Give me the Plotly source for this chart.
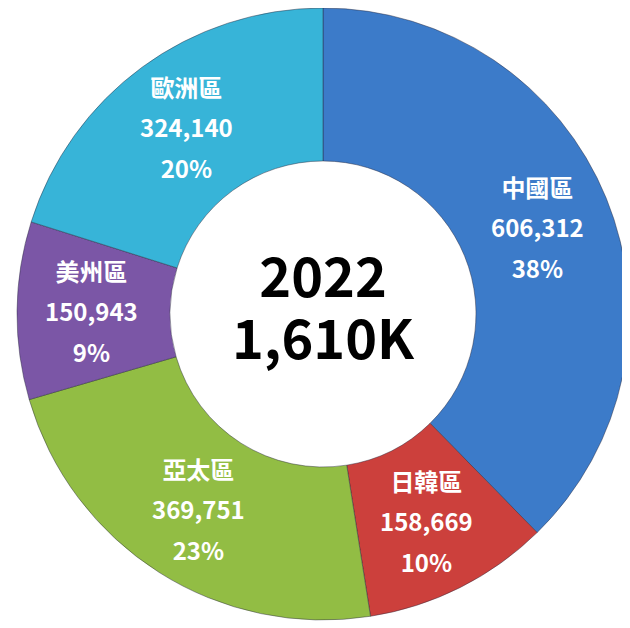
import math
import plotly.graph_objects as go

regions = ["中國區", "日韓區", "亞太區", "美州區", "歐洲區"]
values = [606312, 158669, 369751, 150943, 324140]
colors = ["#3C7BC9", "#CC403C", "#92BD44", "#7B56A6", "#37B4D8"]
center_year = "2022"
center_total = "1,610K"

W, H = 630, 628
cx, cy, R = 315, 306, 306
hole = 0.5

fig = go.Figure()
fig.add_trace(go.Pie(
    labels=regions,
    values=values,
    sort=False,
    direction="clockwise",
    rotation=0,
    hole=hole,
    marker=dict(colors=colors, line=dict(color="rgba(40,40,60,0.45)", width=1)),
    textinfo="none",
    domain=dict(x=[(cx - R) / W, (cx + R) / W], y=[(H - cy - R) / H, (H - cy + R) / H]),
    showlegend=False,
    hoverinfo="label+value+percent",
))

# slice labels placed at the middle of each ring segment (derived from the data)
total = sum(values)
span = "<span style='font-size:24px'>{}</span>"
r_lab = R * (1 + hole) / 2 + 2
cum = 0
for name, v in zip(regions, values):
    mid = (cum + v / 2) / total * 2 * math.pi
    cum += v
    px = cx + r_lab * math.sin(mid)
    py = cy - r_lab * math.cos(mid)
    txt = "<br>".join([span.format(name), span.format(f"{v:,}"), span.format(f"{round(v / total * 100)}%")])
    fig.add_annotation(x=px / W, y=1 - py / H, xref="paper", yref="paper", text=txt,
                       xanchor="center", yanchor="middle", showarrow=False,
                       font=dict(family="Noto Sans CJK TC", size=31, color="white", weight="bold"))

span_c = "<span style='font-size:54px'>{}</span>"
fig.add_annotation(x=cx / W, y=1 - cy / H, xref="paper", yref="paper",
                   text=span_c.format(center_year) + "<br>" + span_c.format(center_total),
                   xanchor="center", yanchor="middle", showarrow=False, yshift=10,
                   font=dict(family="Noto Sans CJK TC", size=48, color="black", weight="bold"))

fig.update_layout(width=W, height=H, margin=dict(l=0, r=0, t=0, b=0),
                  paper_bgcolor="white", plot_bgcolor="white")
fig.write_html("out.html")
